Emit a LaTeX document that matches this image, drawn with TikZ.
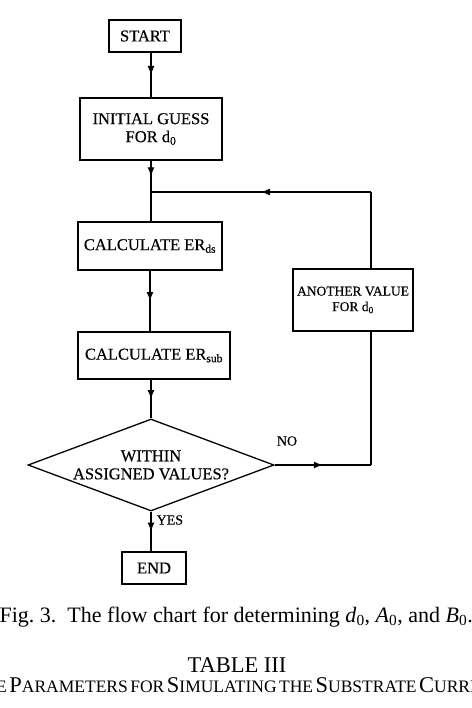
\documentclass[tikz,border=0pt]{standalone}
\usepackage{fontspec}
\setmainfont{Liberation Serif}
\newfontfamily\boxfont[FakeBold=0.4]{Liberation Serif}
\usetikzlibrary{shapes.geometric,decorations.markings,arrows.meta}
\newcommand{\smcap}[2]{{\fontsize{22.5}{24}\selectfont #1}{\fontsize{17.5}{19}\selectfont #2}}
\begin{document}
\begin{tikzpicture}[x=1pt, y=-1pt, line width=1.3pt,
  box/.style={draw, rectangle, inner sep=0pt, align=center, font=\boxfont\fontsize{16.5}{18}\selectfont},
  flow/.style={postaction={decorate}, decoration={markings,
    mark=at position 0.5 with {\arrow{Latex[length=9pt,width=7pt]}}}},
  lbl/.style={inner sep=0pt, font=\boxfont\fontsize{14}{15}\selectfont}]
  \useasboundingbox (0,0) rectangle (471,708);
  \clip (0,0) rectangle (471,708);
  \node[box, minimum width=72, minimum height=32] (start) at (145,36) {START};
  \node[box, minimum width=142, minimum height=62] (guess) at (151,129) {INITIAL GUESS\\FOR d\textsubscript{0}};
  \node[box, minimum width=144, minimum height=48] (calc1) at (150,246) {CALCULATE ER\textsubscript{ds}};
  \node[box, minimum width=152, minimum height=47] (calc2) at (154,355.5) {CALCULATE ER\textsubscript{sub}};
  \node[box, minimum width=120, minimum height=62, font=\boxfont\fontsize{13.5}{15.5}\selectfont] (another) at (353,300) {ANOTHER VALUE\\FOR d\textsubscript{0}};
  \node[box, shape=diamond, shape aspect=2.67, minimum width=246, minimum height=92] (test) at (151,465) {WITHIN\\ASSIGNED VALUES?};
  \node[box, minimum width=64, minimum height=32] (stop) at (154,568) {END};
  \coordinate (join) at (151,192);
  \coordinate (cornerup) at (371,192);
  \coordinate (cornerlow) at (371,465);
  \draw[flow] (guess.north |- start.south) -- (guess.north);
  \draw[flow] (guess.south) -- (join);
  \draw (join) -- (join |- calc1.north);
  \draw[flow] (calc1.south) -- (calc1.south |- calc2.north);
  \draw[flow] (test.north |- calc2.south) -- (test.north);
  \draw[flow] (test.south) -- (test.south |- stop.north);
  \draw[flow] (test.east) -- (cornerlow);
  \draw (cornerlow) -- (cornerlow |- another.south);
  \draw (cornerlow |- another.north) -- (cornerup);
  \draw[flow] (cornerup) -- (join);
  \node[lbl] (no) at (287,441) {NO};
  \node[lbl, anchor=west] (yes) at (156,520) {YES};
  \node[anchor=base west, inner sep=0pt, font=\fontsize{22}{24}\selectfont] (caption) at (-1,622)
    {Fig.\ 3.\ \ The flow chart for determining \textit{d}\textsubscript{0}, \textit{A}\textsubscript{0}, and \textit{B}\textsubscript{0}.};
  \node[anchor=base, inner sep=0pt, font=\fontsize{22.5}{24}\selectfont] (table) at (237,672) {TABLE III};
  \node[anchor=base, inner sep=0pt] (title) at (237,692)
    {\smcap{T}{HE} \smcap{P}{ARAMETERS} \smcap{}{FOR} \smcap{S}{IMULATING} \smcap{}{THE} \smcap{S}{UBSTRATE} \smcap{C}{URRENT}};
\end{tikzpicture}
\end{document}
